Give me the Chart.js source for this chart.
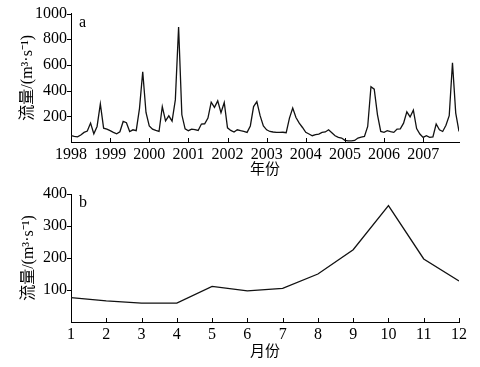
<!DOCTYPE html>
<html>
<head>
<meta charset="utf-8">
<script src="https://cdn.jsdelivr.net/npm/chart.js@4/dist/chart.umd.min.js"></script>
<style>
  html, body { margin: 0; padding: 0; background: #fff; }
  #wrap { position: relative; width: 480px; height: 367px; overflow: hidden; }
  canvas { position: absolute; left: 0; }
  #c1 { top: 0; }
  #c2 { top: 180px; }
</style>
</head>
<body>
<div id="wrap">
  <canvas id="c1" width="480" height="180"></canvas>
  <canvas id="c2" width="480" height="187"></canvas>
</div>
<script>
// ---- Data (a): monthly discharge, m^3/s, Jan..Dec of each year ----
const flow1998 = [50, 43, 40, 55, 75, 85, 147, 64, 121, 297, 108, 100];
const flow1999 = [88, 75, 64, 80, 160, 150, 82, 95, 88, 260, 547, 230];
const flow2000 = [125, 100, 90, 82, 276, 165, 204, 162, 328, 896, 212, 103];
const flow2001 = [88, 100, 96, 90, 140, 142, 186, 310, 270, 320, 228, 308];
const flow2002 = [110, 90, 78, 95, 88, 82, 75, 125, 276, 315, 205, 125];
const flow2003 = [95, 82, 78, 75, 75, 76, 72, 186, 264, 191, 147, 113];
const flow2004 = [75, 62, 49, 57, 62, 75, 78, 95, 72, 49, 36, 31];
const flow2005 = [13, 8, 8, 12, 31, 38, 44, 121, 430, 411, 212, 82];
const flow2006 = [75, 88, 80, 75, 101, 103, 147, 235, 195, 248, 105, 62];
const flow2007 = [36, 49, 36, 40, 140, 95, 82, 130, 205, 617, 225, 82];
const years = [1998, 1999, 2000, 2001, 2002, 2003, 2004, 2005, 2006, 2007];
const yearlyFlows = [flow1998, flow1999, flow2000, flow2001, flow2002, flow2003, flow2004, flow2005, flow2006, flow2007];
const yTicksA = [200, 400, 600, 800, 1000];

// ---- Data (b): mean monthly discharge ----
const months = [1, 2, 3, 4, 5, 6, 7, 8, 9, 10, 11, 12];
const monthlyMean = [76, 66, 59, 59, 111, 97, 105, 150, 226, 364, 197, 128];
const yTicksB = [100, 200, 300, 400];

const FONT = "'Liberation Serif', 'Noto Sans CJK SC', serif";
const CJK = "'Noto Sans CJK SC', 'Liberation Serif', serif";

const seriesA = [];
years.forEach((yr, k) => yearlyFlows[k].forEach((v, m) => seriesA.push({ x: yr + m / 12, y: v })));
const seriesB = months.map((m, i) => ({ x: m, y: monthlyMean[i] }));

function marksPlugin(letter) {
  return {
    id: 'marks',
    afterDraw(chart) {
      const ctx = chart.ctx, xs = chart.scales.x, ys = chart.scales.y;
      ctx.save();
      ctx.strokeStyle = '#000';
      ctx.lineWidth = 1;
      ctx.beginPath();
      xs.ticks.forEach(t => {
        const px = Math.round(xs.getPixelForValue(t.value)) + 0.5;
        ctx.moveTo(px, xs.top); ctx.lineTo(px, xs.top - 4);
      });
      ys.ticks.forEach(t => {
        if (t.value === 0) return;
        const py = Math.round(ys.getPixelForValue(t.value)) + 0.5;
        ctx.moveTo(ys.right, py); ctx.lineTo(ys.right - 4, py);
      });
      ctx.stroke();
      ctx.fillStyle = '#000';
      ctx.font = '16px ' + FONT;
      ctx.textBaseline = 'middle';
      ctx.textAlign = 'left';
      ctx.fillText(letter, chart.chartArea.left + 8, chart.chartArea.top + 9);
      ctx.restore();
    }
  };
}

function makeChart(id, data, xOpts, yOpts, letter, xTitle, padTop, xHeight, xTitlePad, yTitlePad) {
  return new Chart(document.getElementById(id), {
    type: 'line',
    data: { datasets: [{ data: data, borderColor: '#111', borderWidth: 1.3, pointRadius: 0, tension: 0, fill: false }] },
    options: {
      responsive: false, animation: false, devicePixelRatio: 1,
      layout: { padding: { left: 0, right: 21, top: padTop, bottom: 0 } },
      plugins: { legend: { display: false }, tooltip: { enabled: false } },
      scales: {
        x: Object.assign({
          type: 'linear',
          grid: { display: false, drawTicks: false },
          border: { display: true, color: '#000', width: 1 },
          ticks: { color: '#000', font: { family: FONT, size: 16 }, padding: 3, maxRotation: 0, autoSkip: false,
                   callback: v => String(v) },
          title: { display: true, text: xTitle, color: '#000', font: { family: CJK, size: 15 }, padding: { top: 0, bottom: xTitlePad } },
          afterFit: s => { s.height = xHeight; }
        }, xOpts),
        y: Object.assign({
          min: 0,
          grid: { display: false, drawTicks: false },
          border: { display: true, color: '#000', width: 1 },
          ticks: { color: '#000', font: { family: FONT, size: 16 }, padding: 4,
                   callback: v => (v === 0 ? '' : String(v)) },
          title: { display: true, text: '流量/(m³·s⁻¹)', color: '#000', font: { family: FONT, size: 16 }, padding: { top: yTitlePad, bottom: 0 } },
          afterFit: s => { s.width = 71; }
        }, yOpts)
      }
    },
    plugins: [marksPlugin(letter)]
  });
}

makeChart('c1', seriesA,
  { min: years[0], max: years[years.length - 1] + 11 / 12,
    afterBuildTicks: s => { s.ticks = years.map(v => ({ value: v })); } },
  { max: 1000, afterBuildTicks: s => { s.ticks = [0].concat(yTicksA).map(v => ({ value: v })); } },
  'a', '年份', 13, 38, 3, 18);

makeChart('c2', seriesB,
  { min: months[0], max: months[months.length - 1],
    afterBuildTicks: s => { s.ticks = months.map(v => ({ value: v })); } },
  { max: 400, afterBuildTicks: s => { s.ticks = [0].concat(yTicksB).map(v => ({ value: v })); } },
  'b', '月份', 14, 45, 8, 19);
</script>
</body>
</html>
